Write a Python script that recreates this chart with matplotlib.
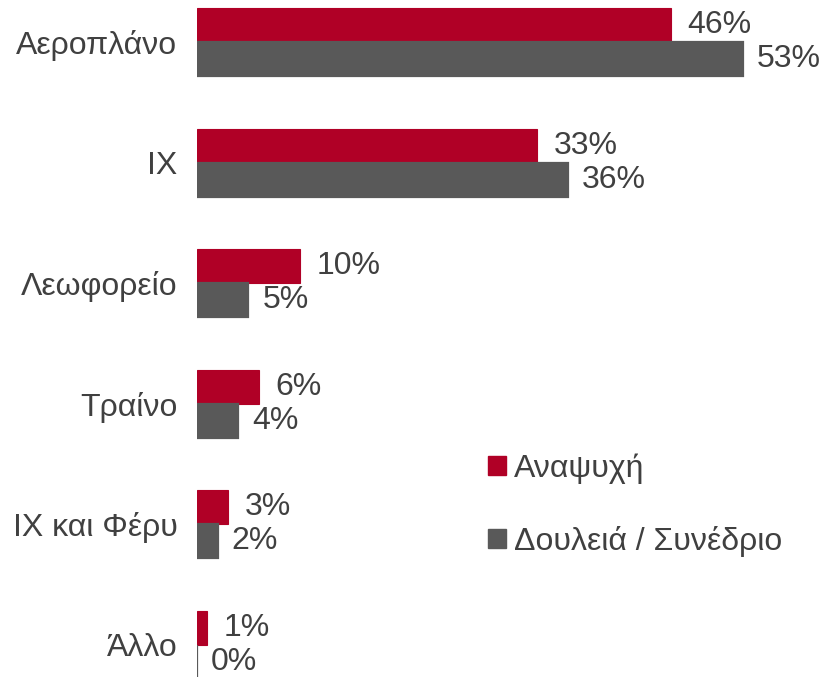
import matplotlib.pyplot as plt
from matplotlib.patches import Patch
import numpy as np

plt.rcParams['font.family'] = ['Liberation Sans', 'DejaVu Sans']

categories = ["Αεροπλάνο", "ΙΧ", "Λεωφορείο", "Τραίνο", "ΙΧ και Φέρυ", "Άλλο"]
leisure = [46, 33, 10, 6, 3, 1]
business = [53, 36, 5, 4, 2, 0]
series_names = ["Αναψυχή", "Δουλειά / Συνέδριο"]

red = "#B00026"
grey = "#595959"
text_col = "#404040"
fs = 23

fig = plt.figure(figsize=(8.23, 6.77), dpi=100)
ax = fig.add_axes([197 / 823, 0, 1 - 197 / 823 - 0.01, 1])

y = np.arange(len(categories))
h = 0.282
ax.barh(y - h / 2, leisure, height=h, color=red, edgecolor=red, linewidth=0.8)
ax.barh(y + h / 2, business, height=h, color=grey, edgecolor=grey, linewidth=1.6)

# value labels
for yi, v in zip(y, leisure):
    ax.annotate(f"{v}%", (v, yi - h / 2), xytext=(12, 0), textcoords="offset points",
                ha="left", va="center", fontsize=fs, color=text_col)
for yi, v in zip(y, business):
    ax.annotate(f"{v}%", (v, yi + h / 2), xytext=(10, 0), textcoords="offset points",
                ha="left", va="center", fontsize=fs, color=text_col)

ax.set_xlim(0, 60)
ax.set_ylim(5 + 32 / 120.6, -42 / 120.6)
ax.set_yticks(y)
ax.set_yticklabels(categories, fontsize=fs, color=text_col)
ax.tick_params(axis="y", length=0, pad=14)
ax.set_xticks([])
for s in ax.spines.values():
    s.set_visible(False)

handles = [Patch(facecolor=red, edgecolor=red), Patch(facecolor=grey, edgecolor=grey)]
leg = fig.legend(handles, series_names, loc="center left", bbox_to_anchor=(488 / 823, 1 - 505 / 677),
                 frameon=False, fontsize=fs, handlelength=0.55, handleheight=0.55,
                 handletextpad=0.25, labelspacing=1.3, borderpad=0, borderaxespad=0)
for t in leg.get_texts():
    t.set_color(text_col)

fig.savefig("out.png", dpi=100)
